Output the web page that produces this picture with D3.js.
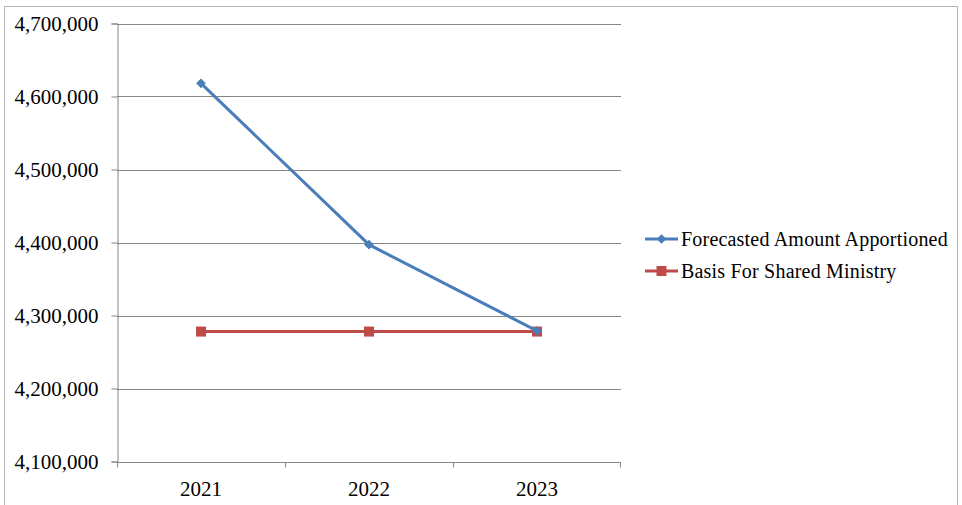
<!DOCTYPE html>
<html>
<head>
<meta charset="utf-8">
<script src="https://cdn.jsdelivr.net/npm/d3@7"></script>
<style>
  body { margin: 0; background: #fff; }
  text { font-family: "Liberation Serif", "DejaVu Serif", serif; fill: #000; }
</style>
</head>
<body>
<div id="chart"></div>
<script>
// data
const years = ["2021", "2022", "2023"];
const forecasted = [4618000, 4397000, 4279000];
const basis = [4278000, 4278000, 4278000];
const yTicks = [4100000, 4200000, 4300000, 4400000, 4500000, 4600000, 4700000];
const seriesNames = ["Forecasted Amount Apportioned", "Basis For Shared Ministry"];

const W = 962, H = 505;
const plot = {left: 117, right: 621, top: 23.5, bottom: 461.5};

const svg = d3.select("#chart")
  .append("svg")
  .attr("width", W)
  .attr("height", H);

// outer chart border
svg.append("rect")
  .attr("x", 4.5).attr("y", 6.5)
  .attr("width", 953).attr("height", 510)
  .attr("fill", "none")
  .attr("stroke", "#b3b3b3");

const x = d3.scaleBand()
  .domain(years)
  .range([plot.left, plot.right]);

const y = d3.scaleLinear()
  .domain([4100000, 4700000])
  .range([plot.bottom, plot.top]);

// gridlines
svg.append("g")
  .selectAll("line")
  .data(yTicks.slice(1))
  .join("line")
    .attr("x1", plot.left).attr("x2", plot.right)
    .attr("y1", d => Math.round(y(d)) + 0.5)
    .attr("y2", d => Math.round(y(d)) + 0.5)
    .attr("stroke", "#868686");

// y axis
const yAxis = svg.append("g")
  .attr("transform", `translate(${plot.left + 0.5},0)`)
  .call(d3.axisLeft(y).tickValues(yTicks).tickSize(6).tickPadding(13)
    .tickFormat(d3.format(",")));
yAxis.select(".domain").attr("stroke", "#868686");
yAxis.selectAll(".tick line").attr("stroke", "#868686");
yAxis.selectAll(".tick text")
  .style("font-size", "21px");

// x axis, ticks on category boundaries
const xAxis = svg.append("g")
  .attr("transform", `translate(0,${Math.round(plot.bottom) + 0.5})`);
xAxis.append("line")
  .attr("x1", plot.left).attr("x2", plot.right)
  .attr("stroke", "#868686");
xAxis.selectAll(".bound")
  .data(years.concat(["end"]))
  .join("line")
    .attr("class", "bound")
    .attr("x1", (d, i) => i < years.length ? x(d) + 0.5 : plot.right - 0.5)
    .attr("x2", (d, i) => i < years.length ? x(d) + 0.5 : plot.right - 0.5)
    .attr("y1", 0).attr("y2", 5)
    .attr("stroke", "#868686");
xAxis.selectAll(".lab")
  .data(years)
  .join("text")
    .attr("class", "lab")
    .attr("x", d => x(d) + x.bandwidth() / 2)
    .attr("y", 33)
    .attr("text-anchor", "middle")
    .style("font-size", "21px")
    .text(d => d);

const line = d3.line()
  .x((d, i) => x(years[i]) + x.bandwidth() / 2)
  .y(d => y(d));

const blue = "#4a7ebb", red = "#be4b48";

// basis series
svg.append("path")
  .datum(basis)
  .attr("d", line)
  .attr("fill", "none")
  .attr("stroke", red)
  .attr("stroke-width", 3);
svg.selectAll(".sq")
  .data(basis)
  .join("rect")
    .attr("class", "sq")
    .attr("x", (d, i) => x(years[i]) + x.bandwidth() / 2 - 5)
    .attr("y", d => y(d) - 5)
    .attr("width", 10).attr("height", 10)
    .attr("fill", red);

// forecasted series
svg.append("path")
  .datum(forecasted)
  .attr("d", line)
  .attr("fill", "none")
  .attr("stroke", blue)
  .attr("stroke-width", 3);
const diamond = d3.symbol().type(d3.symbolDiamond2).size(60);
svg.selectAll(".dm")
  .data(forecasted)
  .join("path")
    .attr("class", "dm")
    .attr("transform", (d, i) => `translate(${x(years[i]) + x.bandwidth() / 2},${y(d)})`)
    .attr("d", diamond)
    .attr("fill", blue);

// legend
const legend = svg.append("g")
  .attr("transform", "translate(645,239)");
const items = legend.selectAll("g")
  .data(seriesNames)
  .join("g")
    .attr("transform", (d, i) => `translate(0,${i * 32})`);
items.append("line")
  .attr("x1", 0).attr("x2", 33)
  .attr("stroke", (d, i) => i === 0 ? blue : red)
  .attr("stroke-width", 3);
items.filter((d, i) => i === 0).append("path")
  .attr("transform", "translate(16.5,0)")
  .attr("d", diamond)
  .attr("fill", blue);
items.filter((d, i) => i === 1).append("rect")
  .attr("x", 11.5).attr("y", -5)
  .attr("width", 10).attr("height", 10)
  .attr("fill", red);
items.append("text")
  .attr("x", 36)
  .attr("dy", "0.35em")
  .style("font-size", "20px")
  .style("letter-spacing", "0.2px")
  .text(d => d);
</script>
</body>
</html>
